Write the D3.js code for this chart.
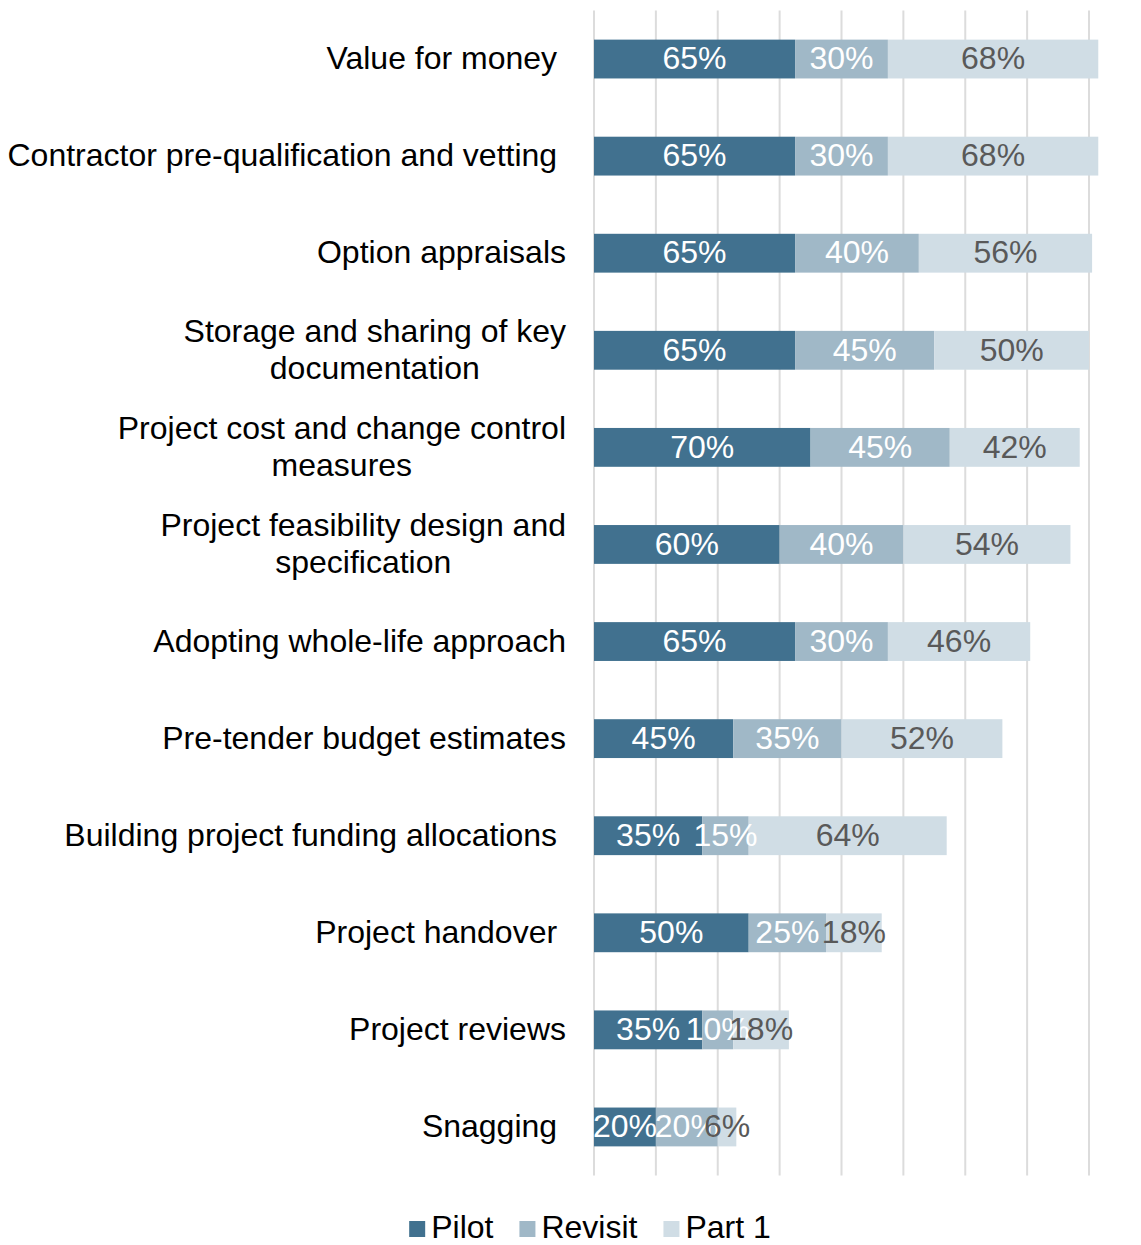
<!DOCTYPE html>
<html>
<head>
<meta charset="utf-8">
<script src="https://cdn.jsdelivr.net/npm/d3@7"></script>
<style>
  html, body { margin: 0; padding: 0; background: #fff; }
  svg text { font-family: "Liberation Sans", Arial, sans-serif; white-space: pre; }
</style>
</head>
<body>
<svg id="chart" width="1141" height="1245"></svg>
<script>
// ---- data ----
const categories = [
  "Value for money ",
  "Contractor pre-qualification and vetting ",
  "Option appraisals",
  "Storage and sharing of key\ndocumentation",
  "Project cost and change control\nmeasures",
  "Project feasibility design and\nspecification",
  "Adopting whole-life approach",
  "Pre-tender budget estimates",
  "Building project funding allocations ",
  "Project handover ",
  "Project reviews",
  "Snagging "
];
const seriesNames = ["Pilot", "Revisit", "Part 1"];
const pilot   = [65, 65, 65, 65, 70, 60, 65, 45, 35, 50, 35, 20];
const revisit = [30, 30, 40, 45, 45, 40, 30, 35, 15, 25, 10, 20];
const part1   = [68, 68, 56, 50, 42, 54, 46, 52, 64, 18, 18, 6];
const xTicks  = [0, 20, 40, 60, 80, 100, 120, 140, 160];

const colors = ["#41718f", "#a0b8c7", "#d0dde5"];
const labelColors = ["#ffffff", "#ffffff", "#595959"];

// ---- layout ----
const svg = d3.select("#chart");
const plotLeft = 594, plotRight = 1089, plotTop = 10.5, plotBottom = 1175.5;
const fontSize = 32;
const dy = "0.32em";

const x = d3.scaleLinear().domain([0, 160]).range([plotLeft, plotRight]);
const y = d3.scaleBand().domain(d3.range(categories.length))
  .range([plotTop, plotBottom]).paddingInner(0.6).paddingOuter(0.3);

// gridlines
svg.append("g").selectAll("line").data(xTicks).join("line")
  .attr("x1", d => x(d)).attr("x2", d => x(d))
  .attr("y1", plotTop).attr("y2", plotBottom)
  .attr("stroke", "#dcdcdc").attr("stroke-width", 2);

// stacked data
const rows = categories.map((c, i) => ({ i, vals: [pilot[i], revisit[i], part1[i]] }));
const segs = [];
rows.forEach(r => {
  let acc = 0;
  r.vals.forEach((v, s) => {
    segs.push({ i: r.i, s, v, x0: acc, x1: acc + v });
    acc += v;
  });
});

svg.append("g").selectAll("rect").data(segs).join("rect")
  .attr("x", d => x(d.x0))
  .attr("width", d => x(d.x1) - x(d.x0))
  .attr("y", d => y(d.i))
  .attr("height", y.bandwidth())
  .attr("fill", d => colors[d.s]);

svg.append("g").selectAll("text").data(segs).join("text")
  .attr("x", d => x((d.x0 + d.x1) / 2))
  .attr("y", d => y(d.i) + y.bandwidth() / 2)
  .attr("dy", dy)
  .attr("text-anchor", "middle")
  .attr("font-size", fontSize)
  .attr("fill", d => labelColors[d.s])
  .text(d => d.v + "%");

// category labels
const labelRight = 566;
const lineH = 37;
const lg = svg.append("g");
categories.forEach((c, i) => {
  const lines = c.split("\n");
  const cy = y(i) + y.bandwidth() / 2;
  if (lines.length === 1) {
    lg.append("text")
      .attr("x", labelRight).attr("y", cy).attr("dy", dy)
      .attr("text-anchor", "end").attr("font-size", fontSize).attr("fill", "#000")
      .text(lines[0]);
  } else {
    const ts = lines.map((l, k) => lg.append("text")
      .attr("y", cy + (k - (lines.length - 1) / 2) * lineH).attr("dy", dy)
      .attr("text-anchor", "middle").attr("font-size", fontSize).attr("fill", "#000")
      .text(l));
    const maxW = d3.max(ts, t => t.node().getComputedTextLength());
    ts.forEach(t => t.attr("x", labelRight - maxW / 2));
  }
});

// legend
const leg = svg.append("g");
const sq = 16, gapText = 6, gapItem = 26, legY = 1228;
let cx = 0;
const items = seriesNames.map((n, s) => {
  const g = leg.append("g");
  g.append("rect").attr("x", 0).attr("y", legY - sq / 2 + 1).attr("width", sq).attr("height", sq).attr("fill", colors[s]);
  const t = g.append("text").attr("x", sq + gapText).attr("y", legY).attr("dy", dy)
    .attr("font-size", fontSize).attr("fill", "#000").text(n);
  const w = sq + gapText + t.node().getComputedTextLength();
  return { g, w };
});
const total = d3.sum(items, d => d.w) + gapItem * (items.length - 1);
cx = 590 - total / 2;
items.forEach(it => { it.g.attr("transform", `translate(${cx},0)`); cx += it.w + gapItem; });
</script>
</body>
</html>
